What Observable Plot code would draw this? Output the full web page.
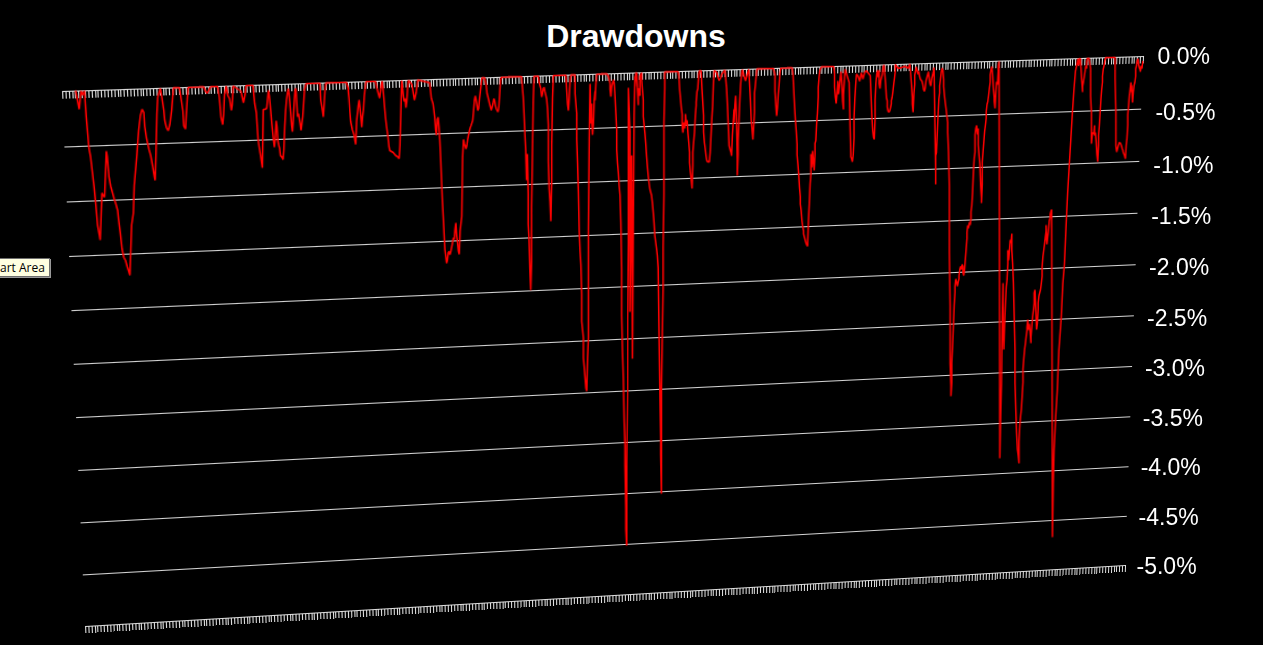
<!DOCTYPE html>
<html>
<head>
<meta charset="utf-8">
<script src="https://cdn.jsdelivr.net/npm/d3@7"></script>
<script src="https://cdn.jsdelivr.net/npm/@observablehq/plot@0.6"></script>
<style>
  html, body { margin: 0; padding: 0; background: #000; overflow: hidden; }
  #stage { position: relative; width: 1263px; height: 645px; background: #000; overflow: hidden; }
  #stage svg { position: absolute; left: 0; top: 0; max-width: none; overflow: visible; background: transparent; }
  .warp { transform-origin: 0 0; }
  #title { position: absolute; left: 0; width: 1272px; top: 20px; text-align: center; color: #fff;
           font: bold 32px "Liberation Sans", Arial, sans-serif; line-height: 32px; }
  #tip { position: absolute; left: -1px; top: 258px; height: 17px; padding: 0 4px 0 0; background: #ffffe1;
         border: 1px solid #6d6d6d; color: #000; font: 12px "Open Sans", "DejaVu Sans", sans-serif; line-height: 17px;
         box-shadow: 1px 1px 0 #999; }
</style>
</head>
<body>
<div id="stage">
  <div id="title">Drawdowns</div>
  <div id="tip">art Area</div>
</div>
<script>
// ---- data: drawdown (%) by trading-day index ----
const early = [[15,0],[19,-0.17],[21,0],[23,-0.04],[25,0],[27,-0.24],[29,-0.43],[30,-0.53],[32,-0.62],[34,-0.76],[36,-0.9],[38,-1.07],[40,-1.26],[42,-1.35],[43,-1.4],[44,-1.18],[45,-0.96],[47,-0.99],[48,-1],[49,-0.79],[50,-0.57],[51,-0.62],[53,-0.81],[55,-0.9],[57,-0.96],[59,-1.02],[61,-1.07],[63,-1.13],[64,-1.21],[66,-1.34],[68,-1.49],[70,-1.57],[72,-1.6],[74,-1.66],[76,-1.71],[77,-1.74],[78,-1.51],[79,-1.27],[81,-1.16],[82,-0.9],[85,-0.62],[87,-0.39],[89,-0.25],[91,-0.19],[93,-0.22],[94,-0.35],[96,-0.46],[99,-0.57],[101,-0.63],[103,-0.72],[105,-0.82],[106,-0.86],[107,-0.6],[108,-0.24],[109,-0.08],[112,0],[114,-0.1],[116,-0.21],[117,-0.3],[119,-0.37],[121,-0.4],[123,-0.34],[125,-0.21],[127,0],[134,0],[136,-0.11],[138,-0.22],[139,-0.36],[141,-0.39],[142,-0.24],[143,-0.11],[144,0],[162,0],[164,-0.04],[166,-0.06],[170,0],[178,0],[180,-0.1],[182,-0.29],[184,-0.36],[185,-0.27],[186,-0.08],[188,0],[190,-0.09],[192,-0.12],[194,-0.23],[195,-0.18],[196,0],[205,-0.05],[208,-0.16],[210,-0.08],[211,0],[219,0],[221,-0.17],[223,-0.26],[224,-0.39],[225,-0.51],[226,-0.57],[228,-0.67],[230,-0.78],[231,-0.23],[233,-0.23],[235,-0.22],[237,-0.05],[238,-0.1],[239,-0.18],[241,-0.37],[243,-0.53],[244,-0.59],[245,-0.5],[246,-0.34],[247,-0.4],[248,-0.53],[249,-0.57],[250,-0.6],[251,-0.67],[253,-0.69],[254,-0.71],[255,-0.62],[256,-0.4],[257,-0.25],[258,-0.15],[259,-0.09],[260,-0.04],[261,-0.09],[262,-0.18],[263,-0.28],[264,-0.39],[265,-0.45],[266,-0.34],[267,-0.18],[268,-0.06],[269,-0.04],[270,-0.18],[271,-0.31],[272,-0.28],[274,-0.38],[275,-0.44],[277,-0.31],[278,-0.19],[279,-0.06],[281,0],[297,0],[298,-0.16],[300,-0.26],[301,-0.32],[302,-0.2],[303,-0.07],[304,0],[328,0],[330,-0.06],[331,-0.15],[332,-0.28],[333,-0.37],[335,-0.45],[337,-0.5],[338,-0.55],[339,-0.59],[340,-0.37],[342,-0.22],[343,-0.17],[344,-0.25],[345,-0.33],[346,-0.43],[347,-0.33],[348,-0.27],[349,-0.14],[350,-0.06],[351,0],[362,0],[364,-0.07],[366,-0.13],[367,-0.16],[368,-0.1],[369,-0.04],[370,0],[371,-0.07],[372,-0.16],[373,-0.26],[374,-0.35],[375,-0.42],[376,-0.48],[377,-0.54],[378,-0.62],[379,-0.66],[381,-0.67],[383,-0.68],[384,-0.69],[386,-0.71],[388,-0.72],[390,-0.74],[391,-0.61],[392,-0.3],[393,0],[394,-0.07],[395,-0.15],[396,-0.2],[397,-0.17],[398,-0.26],[399,-0.2],[400,-0.07],[401,0],[405,-0.04],[407,-0.14],[408,-0.19],[410,-0.12],[411,-0.06],[412,0],[426,-0.03],[428,-0.18],[430,-0.23],[431,-0.29],[432,-0.36],[433,-0.48],[434,-0.53],[435,-0.38],[436,-0.36],[437,-0.45],[438,-0.58],[439,-0.75],[440,-0.96],[441,-1.15],[442,-1.3],[443,-1.46],[444,-1.62],[445,-1.68],[446,-1.75],[447,-1.72],[448,-1.65],[449,-1.64],[450,-1.67],[451,-1.64],[453,-1.56],[454,-1.51],[455,-1.53],[456,-1.43],[457,-1.37],[458,-1.5],[459,-1.56],[460,-1.64],[461,-1.67],[462,-1.45],[464,-1.31],[465,-0.75],[466,-0.58],[467,-0.62],[469,-0.67],[470,-0.64],[471,-0.58],[473,-0.5],[474,-0.47],[475,-0.45],[477,-0.4],[478,-0.31],[479,-0.21],[480,-0.17],[481,-0.21],[483,-0.31],[484,-0.29],[485,-0.2],[487,-0.06],[488,0],[491,0],[493,-0.07],[494,-0.15],[495,-0.18],[497,-0.25],[498,-0.28],[499,-0.31],[500,-0.28],[501,-0.25],[502,-0.2],[503,-0.22],[504,-0.27],[505,-0.3],[507,-0.33],[508,-0.28],[509,-0.16],[510,-0.03],[511,0]];
const middle = [[535,0],[537,-0.19],[538,-0.35],[539,-0.54],[540,-0.7],[541,-0.99],[542,-0.74],[543,-1.12],[543,-1.41],[544,-1.56],[545,-1.85],[546,-2.04],[547,-1.76],[547,-1.25],[548,-0.77],[549,-0.23],[550,0],[555,0],[556,-0.06],[558,-0.12],[559,-0.2],[560,-0.17],[561,-0.12],[562,-0.11],[563,-0.15],[565,-0.22],[566,-0.31],[567,-0.47],[567,-0.82],[568,-1.08],[569,-1.2],[570,-1.39],[571,-1.01],[571,-0.66],[572,-0.22],[573,0],[588,0],[589,-0.15],[590,-0.28],[591,-0.34],[592,-0.22],[593,-0.06],[594,0],[599,0],[599,-0.18],[601,-0.37],[601,-0.62],[602,-0.84],[603,-1.12],[604,-1.5],[605,-1.69],[606,-1.82],[607,-2.1],[607,-2.36],[609,-2.52],[609,-2.71],[610,-2.8],[611,-2.9],[612,-3],[613,-3.03],[614,-2.71],[615,-2.52],[615,-1.49],[616,-0.63],[617,-0.09],[618,-0.47],[619,-0.28],[619,-0.41],[620,-0.58],[621,-0.47],[622,-0.25],[623,-0.16],[623,-0.25],[624,-0.09],[625,0],[637,0],[639,-0.02],[641,-0.09],[641,-0.15],[642,-0.22],[643,-0.12],[645,-0.06],[646,-0.09],[647,-0.22],[648,-0.38],[649,-0.54],[649,-0.73],[650,-0.86],[651,-0.95],[652,-1.08],[653,-1.17],[654,-1.43],[655,-1.88],[655,-2.32],[656,-2.67],[657,-2.93],[658,-3.34],[659,-3.57],[659,-3.76],[660,-4.18],[660,-4.37],[661,-4.53],[661,-4.15],[661,-3.76],[662,-3.03],[662,-2.36],[663,-1.63],[663,-0.9],[663,-0.14],[665,-0.56],[665,-2.29],[666,-1.43],[667,-0.79],[668,-2.74],[669,-1.43],[670,-0.41],[671,-0.03],[671,-0.13],[672,0],[673,0],[675,-0.31],[675,-0.15],[677,-0.22],[677,-0.03],[679,0],[679,-0.06],[681,-0.26],[681,-0.42],[683,-0.58],[684,-0.68],[685,-0.8],[686,-0.9],[687,-0.99],[688,-1.06],[689,-1.12],[691,-1.18],[692,-1.25],[693,-1.34],[694,-1.44],[695,-1.57],[697,-1.69],[698,-1.76],[699,-1.88],[700,-2.46],[701,-3.03],[702,-3.51],[702,-3.67],[703,-4.05],[703,-3.64],[703,-3.03],[704,-2.55],[705,-2.07],[705,-1.69],[706,-1.18],[706,-0.48],[707,-0.16],[707,0]];
const late = [[723,0],[724,-0.04],[725,-0.17],[726,-0.26],[727,-0.35],[728,-0.41],[728,-0.52],[729,-0.59],[730,-0.49],[731,-0.55],[732,-0.46],[732,-0.41],[733,-0.52],[734,-0.47],[735,-0.59],[736,-0.68],[737,-0.78],[737,-0.88],[738,-0.97],[739,-1.04],[740,-1.13],[741,-0.91],[741,-0.78],[742,-0.68],[743,-0.59],[744,-0.43],[745,-0.33],[745,-0.3],[746,-0.2],[747,-0.17],[748,-0.04],[749,0],[751,0],[752,-0.17],[753,-0.3],[754,-0.43],[754,-0.59],[755,-0.69],[756,-0.75],[757,-0.82],[758,-0.87],[760,-0.88],[761,-0.88],[762,-0.79],[763,-0.63],[764,-0.47],[765,-0.34],[766,-0.11],[767,0],[770,-0.02],[772,-0.08],[773,-0.1],[775,-0.07],[776,-0.04],[780,0],[782,-0.18],[783,-0.34],[784,-0.53],[785,-0.73],[786,-0.76],[787,-0.79],[787,-0.78],[788,-0.83],[789,-0.63],[790,-0.51],[791,-0.38],[791,-0.51],[792,-0.35],[793,-0.25],[794,-0.45],[795,-0.86],[795,-1.02],[796,-0.82],[796,-0.69],[797,-0.5],[798,-0.31],[799,-0.15],[800,-0.06],[801,0],[803,-0.06],[805,-0.11],[807,-0.05],[809,0],[811,-0.3],[812,-0.49],[813,-0.58],[814,-0.68],[815,-0.55],[816,-0.42],[816,-0.23],[817,-0.16],[818,-0.07],[819,0],[839,0],[841,-0.06],[841,-0.22],[842,-0.35],[843,-0.46],[844,-0.38],[845,-0.25],[846,-0.16],[847,-0.05],[848,0],[862,0],[863,-0.06],[864,-0.22],[865,-0.38],[866,-0.51],[867,-0.61],[868,-0.74],[868,-0.84],[869,-0.93],[870,-1.03],[871,-1.16],[872,-1.25],[872,-1.32],[873,-1.38],[874,-1.48],[875,-1.54],[876,-1.58],[876,-1.61],[877,-1.64],[878,-1.67],[879,-1.7],[880,-1.72],[881,-1.73],[881,-1.7],[882,-1.48],[883,-1.32],[884,-1.13],[885,-1.03],[885,-0.84],[886,-0.97],[887,-0.81],[888,-0.91],[889,-1],[890,-0.84],[890,-0.74],[891,-0.71],[892,-0.55],[893,-0.45],[894,-0.29],[894,-0.2],[895,-0.1],[896,-0.03],[898,0],[913,0],[914,-0.07],[914,-0.2],[915,-0.3],[916,-0.36],[917,-0.27],[918,-0.17],[918,-0.14],[919,-0.27],[920,-0.2],[921,-0.11],[922,-0.05],[923,-0.16],[924,-0.34],[925,-0.42],[925,-0.28],[926,-0.15],[927,-0.03],[932,-0.16],[933,-0.54],[934,-0.85],[934,-0.88],[935,-0.9],[936,-0.93],[937,-0.86],[938,-0.7],[938,-0.51],[939,-0.32],[940,-0.19],[941,-0.08],[943,-0.1],[945,-0.15],[947,-0.07],[949,-0.13],[950,-0.1],[951,-0.07],[953,-0.05],[958,-0.1],[959,-0.3],[960,-0.5],[961,-0.63],[962,-0.7],[963,-0.72],[964,-0.51],[964,-0.34],[965,-0.18],[966,-0.09],[967,-0.05],[968,-0.12],[969,-0.05],[969,-0.18],[970,-0.23],[971,-0.15],[972,-0.12],[973,-0.09],[974,-0.02],[975,0],[976,-0.09],[977,-0.19],[978,-0.32],[979,-0.35],[979,-0.41],[980,-0.45],[981,-0.46],[982,-0.45],[983,-0.42],[984,-0.38],[984,-0.35],[985,-0.32],[986,-0.26],[987,-0.19],[988,-0.13],[989,-0.06],[989,0],[993,-0.04],[997,-0.03],[1001,-0.02],[1005,-0.04],[1007,0]];
const recent = [[1008,-0.1],[1009,-0.2],[1010,-0.33],[1010,-0.39],[1011,-0.47],[1012,-0.29],[1013,-0.2],[1013,-0.11],[1014,-0.07],[1015,-0.03],[1017,-0.1],[1018,-0.07],[1019,-0.12],[1020,-0.15],[1022,-0.17],[1023,-0.2],[1024,-0.25],[1025,-0.27],[1026,-0.24],[1027,-0.17],[1028,-0.14],[1030,-0.08],[1031,-0.15],[1032,-0.2],[1033,-0.22],[1034,-0.15],[1036,-0.09],[1037,-0.04],[1037,-0.06],[1038,-0.55],[1039,-1.07],[1039,-1.18],[1039,-0.9],[1040,-0.87],[1041,-0.69],[1042,-0.51],[1043,-0.35],[1044,-0.29],[1044,-0.22],[1045,-0.16],[1046,-0.09],[1047,-0.05],[1048,-0.07],[1049,-0.16],[1049,-0.23],[1050,-0.32],[1051,-0.39],[1052,-0.45],[1053,-0.52],[1054,-0.58],[1054,-0.68],[1055,-0.87],[1056,-1.2],[1056,-1.43],[1056,-1.85],[1057,-2.37],[1057,-2.93],[1058,-3.15],[1058,-3.25],[1059,-3.12],[1059,-2.93],[1060,-2.76],[1061,-2.57],[1062,-2.37],[1063,-2.24],[1063,-2.18],[1064,-2.11],[1065,-2.14],[1066,-2.18],[1067,-2.14],[1068,-2.11],[1068,-2.08],[1069,-2.02],[1070,-1.99],[1071,-2.02],[1072,-1.97],[1073,-1.99],[1073,-2.05],[1074,-2.08],[1075,-2.02],[1076,-1.92],[1077,-1.82],[1078,-1.72],[1078,-1.66],[1079,-1.59],[1080,-1.62],[1081,-1.56],[1082,-1.59],[1083,-1.53],[1083,-1.46],[1084,-1.4],[1085,-1.27],[1086,-1.07],[1087,-0.94],[1088,-0.88],[1088,-0.71],[1089,-0.65],[1090,-0.62],[1091,-0.71],[1092,-0.65],[1092,-0.81],[1093,-0.91],[1094,-1],[1095,-1.2],[1096,-1.33],[1096,-1.38],[1097,-1.2],[1097,-0.98],[1098,-0.88],[1099,-0.78],[1100,-0.68],[1101,-0.62],[1102,-0.55],[1102,-0.49],[1103,-0.42],[1104,-0.39],[1105,-0.33],[1106,-0.26],[1107,-0.2],[1107,-0.13],[1108,-0.08],[1109,-0.05],[1110,-0.13],[1111,-0.26],[1112,-0.36],[1112,-0.39],[1113,-0.46],[1114,-0.3],[1115,-0.2],[1116,-0.23],[1117,-0.1],[1117,-0.05],[1118,0],[1119,-3.88],[1120,-3.47],[1121,-3.15],[1122,-2.5],[1123,-2.17],[1123,-2.56],[1124,-2.82],[1125,-2.56],[1126,-2.37],[1127,-2.21],[1128,-2.14],[1129,-1.98],[1129,-1.85],[1130,-1.95],[1131,-1.85],[1132,-1.75],[1133,-1.78],[1134,-1.69],[1134,-1.85],[1135,-1.98],[1136,-2.17],[1137,-2.5],[1138,-2.82],[1138,-3.15],[1139,-3.41],[1140,-3.64],[1141,-3.8],[1142,-3.86],[1143,-3.94],[1143,-3.73],[1144,-3.57],[1145,-3.48],[1146,-3.41],[1147,-3.28],[1148,-3.15],[1148,-3.02],[1149,-2.92],[1150,-2.83],[1151,-2.77],[1152,-2.7],[1153,-2.64],[1153,-2.61],[1154,-2.54],[1155,-2.64],[1156,-2.58],[1157,-2.67],[1158,-2.77],[1158,-2.71],[1159,-2.61],[1160,-2.51],[1161,-2.45],[1162,-2.38],[1162,-2.28],[1163,-2.25],[1164,-2.44],[1165,-2.64],[1166,-2.58],[1167,-2.44],[1167,-2.38],[1168,-2.31],[1169,-2.28],[1170,-2.25],[1171,-2.19],[1172,-2.12],[1172,-2.03],[1173,-1.93],[1174,-1.87],[1175,-1.81],[1176,-1.74],[1177,-1.68],[1177,-1.62],[1178,-1.81],[1179,-1.74],[1180,-1.68],[1181,-1.58],[1182,-1.55],[1182,-1.52],[1183,-1.49],[1184,-1.47],[1185,-4.68],[1186,-4.16],[1187,-3.83],[1189,-3.51],[1191,-3.25],[1193,-2.86],[1196,-2.53],[1198,-2.2],[1200,-2.01],[1202,-1.65],[1204,-1.32],[1206,-1.06],[1208,-0.8],[1210,-0.54],[1212,-0.31],[1214,-0.12],[1216,-0.05],[1217,0],[1218,-0.07],[1219,0],[1220,0],[1221,-0.1],[1222,-0.23],[1223,-0.33],[1223,-0.27],[1224,-0.23],[1225,-0.18],[1226,-0.13],[1227,-0.07],[1228,-0.1],[1228,-0.04],[1229,0],[1231,0],[1233,-0.1],[1233,-0.37],[1234,-0.53],[1234,-0.84],[1235,-0.76],[1236,-0.73],[1237,-0.74],[1238,-0.66],[1238,-0.76],[1239,-0.73],[1240,-0.82],[1241,-0.95],[1242,-1.02],[1243,-0.86],[1243,-0.76],[1244,-0.67],[1245,-0.54],[1246,-0.41],[1247,-0.31],[1248,-0.24],[1248,-0.18],[1249,-0.11],[1250,-0.08],[1251,-0.03],[1252,0],[1264,0],[1264,-0.21],[1265,-0.54],[1265,-0.87],[1266,-0.93],[1267,-0.9],[1268,-0.87],[1269,-0.85],[1269,-0.84],[1270,-0.84],[1271,-0.85],[1272,-0.87],[1273,-0.9],[1274,-0.92],[1274,-0.93],[1275,-0.95],[1276,-0.97],[1277,-1],[1278,-0.87],[1279,-0.8],[1280,-0.67],[1280,-0.57],[1281,-0.48],[1282,-0.38],[1283,-0.32],[1284,-0.25],[1285,-0.35],[1285,-0.28],[1286,-0.45],[1287,-0.35],[1288,-0.28],[1289,-0.25],[1290,-0.19],[1290,-0.12],[1291,-0.09],[1292,-0.04],[1293,-0.02],[1294,-0.09],[1295,-0.12],[1295,-0.1],[1296,-0.15],[1297,-0.09],[1298,-0.12],[1299,-0.05]];

// value axis
const axisValues = [0, -0.5, -1, -1.5, -2, -2.5, -3, -3.5, -4, -4.5, -5];
const axisLabels = ["0.0%", "-0.5%", "-1.0%", "-1.5%", "-2.0%", "-2.5%", "-3.0%", "-3.5%", "-4.0%", "-4.5%", "-5.0%"];
const gridValues = [-0.5, -1, -1.5, -2, -2.5, -3, -3.5, -4, -4.5];
const floorValues = [0, -5];          // the two tick-marked category axis rows
const dayDomain = [0, 1300];
const categoryTickCount = 350;

// ---- rendering ----
const series = [...early, ...middle, ...late, ...recent].map(([day, dd]) => ({day, dd}));
const categoryTicks = d3.range(categoryTickCount + 1).map(i => dayDomain[0] + i * (dayDomain[1] - dayDomain[0]) / categoryTickCount);

const W = 1000, H = 500;
const font = '"Liberation Sans", Arial, sans-serif';

// CSS matrix3d mapping the W x H plot rectangle onto a quadrilateral (3-D view of the Excel chart)
function quadTransform(w, h, [x0, y0], [x1, y1], [x2, y2], [x3, y3]) {
  const dx1 = x1 - x2, dx2 = x3 - x2, dx3 = x0 - x1 + x2 - x3;
  const dy1 = y1 - y2, dy2 = y3 - y2, dy3 = y0 - y1 + y2 - y3;
  const den = dx1 * dy2 - dx2 * dy1;
  const g = (dx3 * dy2 - dx2 * dy3) / den;
  const k = (dx1 * dy3 - dx3 * dy1) / den;
  const a = x1 - x0 + g * x1, b = x3 - x0 + k * x3, c = x0;
  const d = y1 - y0 + g * y1, e = y3 - y0 + k * y3, f = y0;
  return `matrix3d(${a / w},${d / w},0,${g / w},${b / h},${e / h},0,${k / h},0,0,1,0,${c},${f},0,1)`;
}

const frame = {
  width: W, height: H, margin: 0,
  x: {domain: dayDomain, range: [0, W], axis: null},
  y: {domain: [-5, 0], range: [H, 0], axis: null},
  style: {background: "transparent", overflow: "visible"}
};

// back wall: gridlines and the two tick rows
const wall = Plot.plot({
  ...frame,
  marks: [
    Plot.ruleY(gridValues, {stroke: "#d4d4d4", strokeWidth: 1.1}),
    Plot.ruleY(floorValues, {stroke: "#dcdcdc", strokeWidth: 1.1}),
    Plot.ruleX(categoryTicks, {x: d => d, y1: floorValues[0], y2: floorValues[0] - 0.065, stroke: "#e0e0e0", strokeWidth: 1, shapeRendering: "crispEdges"}),
    Plot.ruleX(categoryTicks, {x: d => d, y1: floorValues[1], y2: floorValues[1] - 0.065, stroke: "#e0e0e0", strokeWidth: 1, shapeRendering: "crispEdges"})
  ]
});

// series ribbon
const ribbon = Plot.plot({
  ...frame,
  marks: [
    Plot.line(series, {x: "day", y: "dd", stroke: "#ff0000", strokeWidth: 1.5, strokeLinejoin: "miter"})
  ]
});

// value-axis labels (upright text)
const labels = Plot.plot({
  width: 1263, height: 645, margin: 0,
  x: {domain: [-5, 0], range: [1136, 1157], axis: null},
  y: {type: "pow", exponent: 0.9623, domain: [-5, 0], range: [566, 56.5], axis: null},
  style: {background: "transparent", overflow: "visible"},
  marks: [
    Plot.text(axisValues, {x: d => d, y: d => d, text: (d, i) => axisLabels[i], textAnchor: "start",
      fill: "#ffffff", fontSize: 23, fontFamily: font})
  ]
});

wall.classList.add("warp");
ribbon.classList.add("warp");
wall.style.transform = quadTransform(W, H, [62, 91], [1143, 56], [1125, 565], [85, 626]);
ribbon.style.transform = quadTransform(W, H, [62, 91], [1143, 56], [1143, 564], [62, 627]);

const stage = document.getElementById("stage");
stage.insertBefore(wall, stage.firstChild);
stage.insertBefore(ribbon, wall.nextSibling);
stage.appendChild(labels);
</script>
</body>
</html>
